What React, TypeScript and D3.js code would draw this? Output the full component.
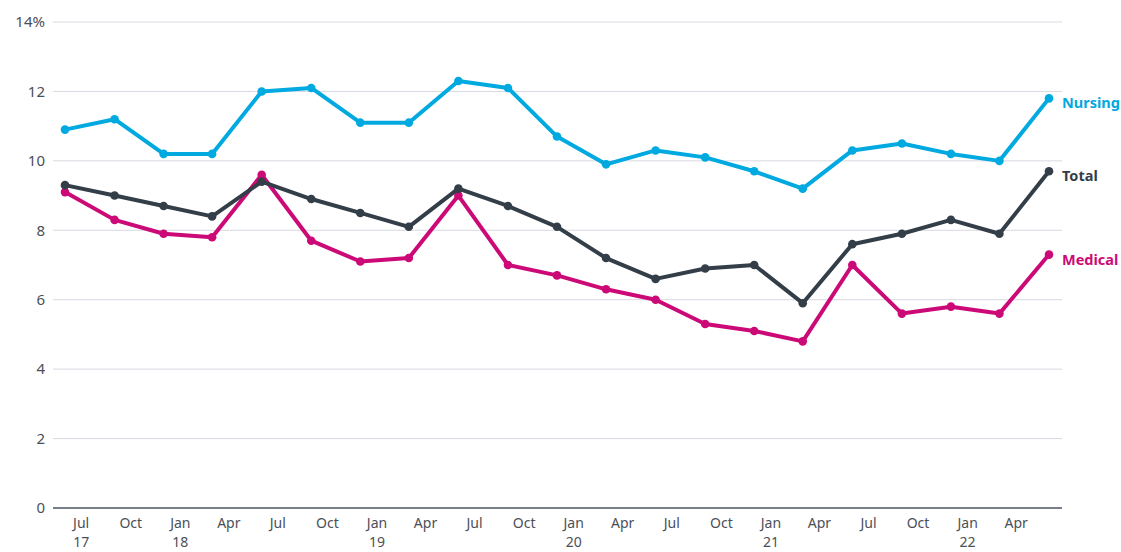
import React, { useEffect, useRef } from "react";
import * as d3 from "d3";

// quarterly points, Jun 2017 .. Jun 2022
const quarters = d3.range(0, 21).map(i => new Date(2017, 5 + i * 3, 1));

const nursing = [10.9, 11.2, 10.2, 10.2, 12.0, 12.1, 11.1, 11.1, 12.3, 12.1, 10.7, 9.9, 10.3, 10.1, 9.7, 9.2, 10.3, 10.5, 10.2, 10.0, 11.8];
const total = [9.3, 9.0, 8.7, 8.4, 9.4, 8.9, 8.5, 8.1, 9.2, 8.7, 8.1, 7.2, 6.6, 6.9, 7.0, 5.9, 7.6, 7.9, 8.3, 7.9, 9.7];
const medical = [9.1, 8.3, 7.9, 7.8, 9.6, 7.7, 7.1, 7.2, 9.0, 7.0, 6.7, 6.3, 6.0, 5.3, 5.1, 4.8, 7.0, 5.6, 5.8, 5.6, 7.3];

const yTicks = [0, 2, 4, 6, 8, 10, 12, 14];
const monthNames = ["Jan", "Apr", "Jul", "Oct"];

const series = [
  { name: "Medical", values: medical, color: "#cc0a77" },
  { name: "Total", values: total, color: "#333e48" },
  { name: "Nursing", values: nursing, color: "#00a9e0" },
];

const W = 1121;
const H = 552;

export default function App() {
  const ref = useRef<SVGSVGElement>(null);

  useEffect(() => {
    const svg = d3.select(ref.current);
    svg.selectAll("*").remove();

    const left = 53, right = 1062, top = 22, bottom = 508;
    const x = d3.scaleTime().domain([quarters[0], quarters[quarters.length - 1]]).range([65, 1049]);
    const y = d3.scaleLinear().domain([0, 14]).range([bottom, top]);
    const font = "'Noto Sans', 'Open Sans', sans-serif";

    // grid
    const yAxis = svg.append("g");
    yTicks.forEach(t => {
      if (t > 0) {
        yAxis.append("line").attr("x1", left).attr("x2", right).attr("y1", y(t)).attr("y2", y(t))
          .attr("stroke", "#d8d8e2").attr("stroke-width", 1);
      }
      yAxis.append("text").attr("x", 45).attr("y", y(t)).attr("dy", "0.35em")
        .attr("text-anchor", "end").attr("font-family", font).attr("font-size", 15)
        .attr("fill", "#4b5058").text(t === 14 ? "14%" : String(t));
    });

    // x axis
    svg.append("line").attr("x1", left).attr("x2", right).attr("y1", bottom).attr("y2", bottom)
      .attr("stroke", "#4b555e").attr("stroke-width", 1.3);
    const ticks = d3.timeMonth.every(3)!.range(new Date(2017, 6, 1), new Date(2022, 5, 1));
    const xa = svg.append("g").attr("font-family", font).attr("font-size", 14).attr("fill", "#4b5058");
    ticks.forEach(d => {
      const m = d.getMonth();
      xa.append("text").attr("x", x(d)).attr("y", 528).attr("text-anchor", "middle")
        .text(monthNames[m / 3]);
      if (m === 0 || d.getTime() === ticks[0].getTime()) {
        xa.append("text").attr("x", x(d)).attr("y", 547).attr("text-anchor", "middle")
          .text(String(d.getFullYear()).slice(2));
      }
    });

    const line = d3.line<number>().x((_, i) => x(quarters[i])).y(v => y(v));

    series.forEach(s => {
      const g = svg.append("g");
      g.append("path").attr("d", line(s.values)!).attr("fill", "none").attr("stroke", s.color)
        .attr("stroke-width", 4).attr("stroke-linejoin", "round");
      g.selectAll("circle").data(s.values).join("circle")
        .attr("cx", (_, i) => x(quarters[i])).attr("cy", v => y(v)).attr("r", 4.3).attr("fill", s.color);
      const last = s.values[s.values.length - 1];
      g.append("text").attr("x", 1062).attr("y", y(last) + 5).attr("dy", "0.35em")
        .attr("font-family", font).attr("font-size", 14.5).attr("font-weight", "bold")
        .attr("fill", s.color).text(s.name);
    });
  }, []);

  return <svg ref={ref} width={W} height={H} style={{ position: "absolute", left: 0, top: 0 }} />;
}
